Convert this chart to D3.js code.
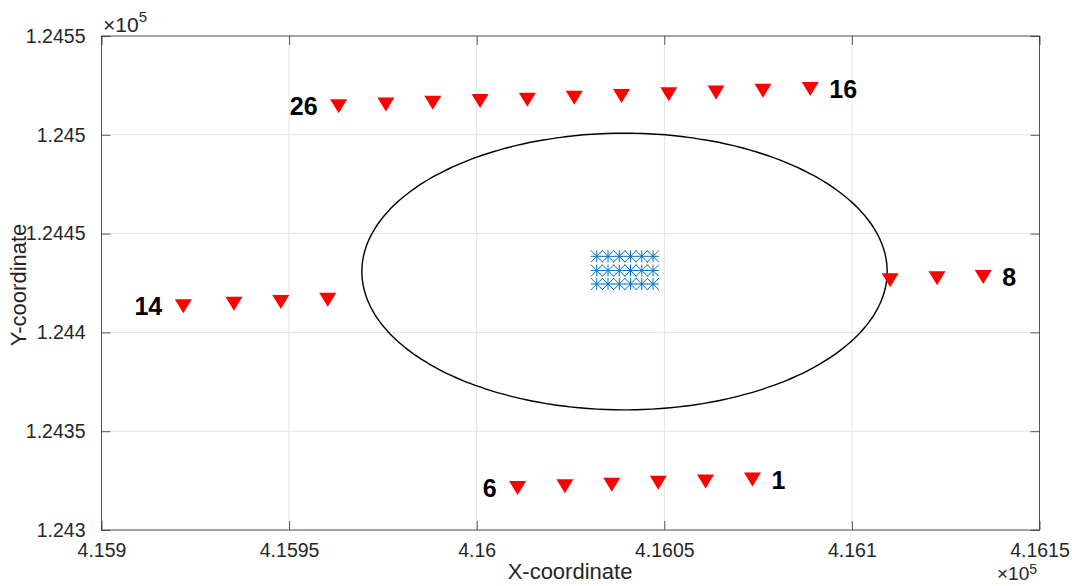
<!DOCTYPE html>
<html>
<head>
<meta charset="utf-8">
<script src="https://cdn.jsdelivr.net/npm/d3@7/dist/d3.min.js"></script>
<style>
  html, body { margin: 0; padding: 0; background: #fff; }
  svg { display: block; }
  text { font-family: "Liberation Sans", Arial, Helvetica, sans-serif; }
</style>
</head>
<body>
<svg id="chart" width="1072" height="586"></svg>
<script>
// ---------- data ----------
const xDomain = [415900, 416150];
const yDomain = [124300, 124550];
const xTicks = [415900, 415950, 416000, 416050, 416100, 416150];
const xTickLabels = ["4.159", "4.1595", "4.16", "4.1605", "4.161", "4.1615"];
const yTicks = [124300, 124350, 124400, 124450, 124500, 124550];
const yTickLabels = ["1.243", "1.2435", "1.244", "1.2445", "1.245", "1.2455"];

// receiver triangles (red) — bottom row, points 1..6 (right to left)
const bottomX = [416073.5, 416061.0, 416048.4, 416036.0, 416023.5, 416010.9];
const bottomY = [124325.5, 124324.6, 124323.9, 124322.9, 124322.1, 124321.3];
// right row, points 8..10 (right to left)
const rightX = [416135.0, 416122.7, 416110.2];
const rightY = [124428.0, 124427.4, 124426.4];
// left row, points 11..14 (right to left)
const leftX = [415960.3, 415947.8, 415935.3, 415921.8];
const leftY = [124416.5, 124415.4, 124414.5, 124413.2];
// top row, points 16..26 (right to left)
const topX = [416088.9, 416076.3, 416063.8, 416051.2, 416038.6, 416026.0, 416013.5, 416000.9, 415988.3, 415975.8, 415963.2];
const topY = [124523.2, 124522.3, 124521.4, 124520.5, 124519.6, 124518.7, 124517.8, 124517.1, 124516.2, 124515.3, 124514.4];

// point labels: [text, x, y, side]
const pointLabels = [
  ["1", 416073.5, 124325.5, "right"],
  ["6", 416010.9, 124321.3, "left"],
  ["8", 416135.0, 124428.0, "right"],
  ["14", 415921.8, 124413.2, "left"],
  ["16", 416088.9, 124523.2, "right"],
  ["26", 415963.2, 124514.4, "left"]
];

// source grid (blue asterisks)
const srcX = [416032, 416035, 416038, 416041, 416044, 416047];
const srcY = [124438.5, 124431.3, 124424.5];

// circle
const circleCenter = [416039.4, 124430.8];
const circleRadius = 70;

// ---------- layout ----------
const svg = d3.select("#chart");
const L = 101.5, R = 1039.5, T = 36, B = 530;
const x = d3.scaleLinear().domain(xDomain).range([L, R]);
const y = d3.scaleLinear().domain(yDomain).range([B, T]);
const axisColor = "#262626";
const fontTick = 19.5;

// grid
const g = svg.append("g");
g.selectAll(".gx").data(xTicks).join("line")
  .attr("x1", d => x(d)).attr("x2", d => x(d)).attr("y1", T).attr("y2", B)
  .attr("stroke", "#e3e3e3").attr("stroke-width", 1);
g.selectAll(".gy").data(yTicks).join("line")
  .attr("y1", d => y(d)).attr("y2", d => y(d)).attr("x1", L).attr("x2", R)
  .attr("stroke", "#e3e3e3").attr("stroke-width", 1);

// axes with inward ticks (all four sides)
const tickLen = 9;
const axB = d3.axisBottom(x).tickValues(xTicks).tickSize(-tickLen).tickFormat((d, i) => xTickLabels[i]).tickPadding(13);
const axT = d3.axisTop(x).tickValues(xTicks).tickSize(-tickLen).tickFormat("");
const axLft = d3.axisLeft(y).tickValues(yTicks).tickSize(-tickLen).tickFormat((d, i) => yTickLabels[i]).tickPadding(16);
const axRt = d3.axisRight(y).tickValues(yTicks).tickSize(-tickLen).tickFormat("");

function styleAxis(sel) {
  sel.selectAll("path").attr("stroke", axisColor).attr("stroke-width", 1).attr("opacity", 0.75);
  sel.selectAll("line").attr("stroke", axisColor).attr("stroke-width", 1).attr("opacity", 0.75);
  sel.selectAll("text").attr("fill", axisColor).attr("font-size", fontTick)
    .attr("font-family", "'Liberation Sans', Arial, sans-serif");
}
const gB = svg.append("g").attr("transform", `translate(0,${B})`).call(axB);
gB.select(".domain").remove();
styleAxis(gB);
gB.selectAll("text").attr("dy", "0.71em");
const gT = svg.append("g").attr("transform", `translate(0,${T})`).call(axT);
gT.select(".domain").remove(); styleAxis(gT);
const gLf = svg.append("g").attr("transform", `translate(${L},0)`).call(axLft);
gLf.select(".domain").remove(); styleAxis(gLf);
const gR = svg.append("g").attr("transform", `translate(${R},0)`).call(axRt);
gR.select(".domain").remove(); styleAxis(gR);

// box
svg.append("rect").attr("x", L).attr("y", T).attr("width", R - L).attr("height", B - T)
  .attr("fill", "none").attr("stroke", axisColor).attr("stroke-width", 1).attr("opacity", 0.75);

// exponent labels
function expLabel(px, py, size, supSize, sup) {
  const t = svg.append("text").attr("x", px).attr("y", py).attr("fill", axisColor)
    .attr("font-size", size);
  t.append("tspan").text("\u00d710");
  t.append("tspan").attr("dy", -sup).attr("font-size", supSize).text("5");
}
expLabel(103, 32, 21, 15, 10);
expLabel(997, 580, 19, 14, 6);

// axis labels
svg.append("text").attr("x", 570).attr("y", 579).attr("text-anchor", "middle")
  .attr("font-size", 22).attr("fill", axisColor).text("X-coordinate");
svg.append("text").attr("transform", `translate(26,${(T + B) / 2 + 2}) rotate(-90)`)
  .attr("text-anchor", "middle").attr("font-size", 22).attr("fill", axisColor).text("Y-coordinate");

// circle
const plot = svg.append("g");
const angles = d3.range(0, 360, 2).map(a => a * Math.PI / 180);
const circlePts = angles.map(a => [circleCenter[0] + circleRadius * Math.cos(a), circleCenter[1] + circleRadius * Math.sin(a)]);
plot.append("path")
  .attr("d", d3.line().x(d => x(d[0])).y(d => y(d[1])).curve(d3.curveCardinalClosed)(circlePts))
  .attr("fill", "none").attr("stroke", "#000").attr("stroke-width", 1.4);

// asterisks
const srcPts = [];
srcY.forEach(yy => srcX.forEach(xx => srcPts.push([xx, yy])));
const s = 6;
const starPath = `M${-s},0L${s},0M0,${-s}L0,${s}M${-s},${-s}L${s},${s}M${-s},${s}L${s},${-s}`;
plot.selectAll(".src").data(srcPts).join("path")
  .attr("transform", d => `translate(${x(d[0])},${y(d[1])})`)
  .attr("d", starPath).attr("fill", "none").attr("stroke", "#0072BD").attr("stroke-width", 1);

// triangles
const tri = "M-8.5,-7L8.5,-7L0,7Z";
const recPts = [];
[[bottomX, bottomY], [rightX, rightY], [leftX, leftY], [topX, topY]].forEach(([xs, ys]) => {
  xs.forEach((xx, i) => recPts.push([xx, ys[i]]));
});
plot.selectAll(".rec").data(recPts).join("path")
  .attr("transform", d => `translate(${x(d[0])},${y(d[1])})`)
  .attr("d", tri).attr("fill", "#ff0000");

// point labels
plot.selectAll(".lbl").data(pointLabels).join("text")
  .attr("x", d => x(d[1]) + (d[3] === "right" ? 19 : -21))
  .attr("y", d => y(d[2]))
  .attr("dy", "0.36em")
  .attr("text-anchor", d => d[3] === "right" ? "start" : "end")
  .attr("font-size", 25).attr("font-weight", "bold").attr("fill", "#000")
  .text(d => d[0]);
</script>
</body>
</html>
